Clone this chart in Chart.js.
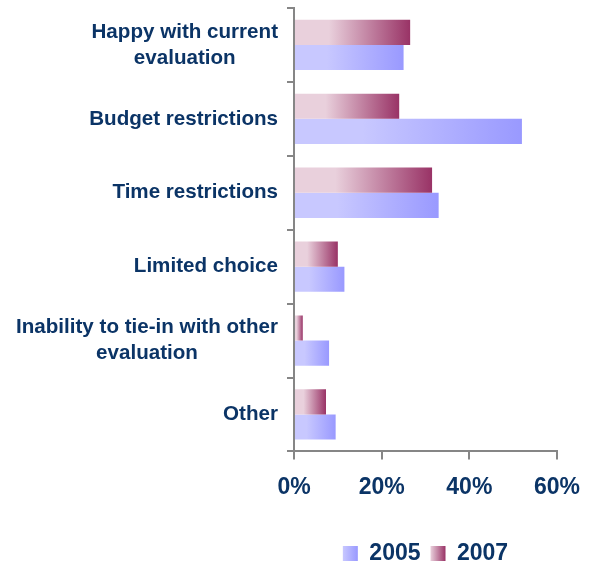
<!DOCTYPE html>
<html>
<head>
<meta charset="utf-8">
<script src="https://cdn.jsdelivr.net/npm/chart.js@4/dist/chart.umd.min.js"></script>
<style>
  html, body { margin: 0; padding: 0; background: #fff; }
  #wrap { width: 591px; height: 562px; }
</style>
</head>
<body>
<div id="wrap"><canvas id="myChart" width="591" height="562"></canvas></div>
<script>
const categories = [
  ['Happy with current', 'evaluation'],
  'Budget restrictions',
  'Time restrictions',
  'Limited choice',
  ['Inability to tie-in with other', 'evaluation'],
  'Other'
];
const values2005 = [25, 52, 33, 11.5, 8, 9.5];
const values2007 = [26.5, 24, 31.5, 10, 2, 7.3];
const xTicks = [0, 20, 40, 60];

const navy = '#0b3466';
const axisGrey = '#868686';
const fontFamily = '"Liberation Sans", Arial, sans-serif';

function barFill(light, dark)
{
  return function(ctx) {
    const chart = ctx.chart;
    if (!chart.chartArea || ctx.type !== 'data') return dark;
    const x = chart.scales.x;
    const x0 = x.getPixelForValue(0);
    const x1 = x.getPixelForValue(ctx.raw);
    if (x1 - x0 < 1) return dark;
    const g = chart.ctx.createLinearGradient(x0, 0, x1, 0);
    g.addColorStop(0, light);
    g.addColorStop(0.3, light);
    g.addColorStop(1, dark);
    return g;
  };
}

// legend boxes get the same light->dark fade as the bars
const legendFade = {
  id: 'legendFade',
  afterLayout(chart) {
    // push the legend row down, closer to the bottom edge
    const lg = chart.legend;
    if (!lg) return;
    lg.top += 17;
    lg.bottom += 17;
  },
  beforeDraw(chart) {
    const lg = chart.legend;
    if (!lg || !lg.legendItems || !lg.legendHitBoxes) return;
    const fades = { '2005': ['#c8c8ff', '#9999ff'], '2007': ['#e9d0dc', '#993366'] };
    lg.legendItems.forEach((item, i) => {
      const hb = lg.legendHitBoxes[i];
      const f = fades[item.text];
      if (!hb || !f) return;
      const g = chart.ctx.createLinearGradient(hb.left, 0, hb.left + 15, 0);
      g.addColorStop(0, f[0]);
      g.addColorStop(1, f[1]);
      item.fillStyle = g;
    });
  }
};

// category labels: block right aligned, lines centred inside the block
const yLabels = {
  id: 'yLabels',
  afterDraw(chart) {
    const y = chart.scales.y;
    const c = chart.ctx;
    c.save();
    c.font = 'bold 20.6px ' + fontFamily;
    c.fillStyle = navy;
    c.textAlign = 'center';
    c.textBaseline = 'middle';
    const right = y.right - 7 - 9;
    categories.forEach((lab, i) => {
      const lines = Array.isArray(lab) ? lab : [lab];
      const w = Math.max(...lines.map(l => c.measureText(l).width));
      const cy = y.getPixelForTick(i);
      lines.forEach((l, j) => {
        c.fillText(l, right - w / 2, cy + (j - (lines.length - 1) / 2) * 26);
      });
    });
    c.restore();
  }
};

const ctx = document.getElementById('myChart').getContext('2d');
const myChart = new Chart(ctx, {
  type: 'bar',
  data: {
    labels: categories,
    datasets: [{
      label: '2007',
      data: values2007,
      backgroundColor: barFill('#e9d0dc', '#993366'),
      borderWidth: 0
    }, {
      label: '2005',
      data: values2005,
      backgroundColor: barFill('#c8c8ff', '#9999ff'),
      borderWidth: 0
    }]
  },
  options: {
    indexAxis: 'y',
    responsive: false,
    animation: false,
    categoryPercentage: 0.68,
    barPercentage: 1,
    layout: { padding: { left: 0, right: 34, top: 8, bottom: 4 } },
    plugins: {
      tooltip: { enabled: false },
      legend: {
        position: 'bottom',
        fullSize: false,
        reverse: true,
        labels: {
          boxWidth: 15,
          boxHeight: 15,
          padding: 10,
          color: navy,
          font: { family: fontFamily, size: 23, weight: 'bold' }
        }
      }
    },
    scales: {
      x: {
        min: 0,
        max: 60,
        afterBuildTicks: axis => { axis.ticks = xTicks.map(v => ({ value: v })); },
        afterFit: axis => { axis.paddingLeft = 0; axis.paddingRight = 0; },
        grid: { drawOnChartArea: false, tickLength: 8, color: axisGrey, lineWidth: 2 },
        border: { color: axisGrey, width: 2 },
        ticks: {
          padding: 14,
          color: navy,
          font: { family: fontFamily, size: 23, weight: 'bold' },
          callback: v => v + '%'
        }
      },
      y: {
        afterFit: axis => { axis.width = 294; },
        grid: { drawOnChartArea: false, offset: true, tickLength: 7, color: axisGrey, lineWidth: 2 },
        border: { color: axisGrey, width: 2 },
        ticks: {
          color: 'rgba(0,0,0,0)',
          font: { family: fontFamily, size: 1 }
        }
      }
    }
  },
  plugins: [legendFade, yLabels]
});
</script>
</body>
</html>
